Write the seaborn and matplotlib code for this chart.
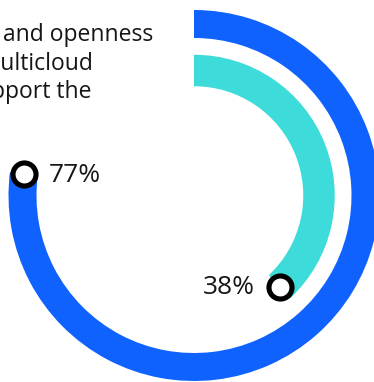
import numpy as np
import pandas as pd
import matplotlib
matplotlib.use("Agg")
import matplotlib.pyplot as plt
import seaborn as sns

# ---- data ----
series = ["Outer ring", "Inner ring"]
values = [77, 38]
value_labels = ["77%", "38%"]
colors = ["#0f62fe", "#3ddbd9"]
caption_lines = ["and openness", "multicloud", "support the"]

# ---- layout (pixels) ----
W, H = 374, 382
cx, cy = 194, 195.5
R = 190
ring_mid = [171.5, 125]
ring_width = [28, 31.5]

sns.set_theme(style="white")
plt.rcParams["font.family"] = ["Open Sans", "DejaVu Sans"]

fig = plt.figure(figsize=(W / 100, H / 100), dpi=100)
ax = fig.add_axes([(cx - R) / W, (H - cy - R) / H, 2 * R / W, 2 * R / H],
                  projection="polar")
ax.set_theta_zero_location("N")
ax.set_theta_direction(-1)
ax.set_ylim(0, R)
ax.set_xlim(0, 2 * np.pi)
ax.patch.set_alpha(0)

theta_end = [np.deg2rad(v * 3.6) for v in values]
for th, r, w, c in zip(theta_end, ring_mid, ring_width, colors):
    ax.barh(r, th, left=0, height=w, color=c, linewidth=0, clip_on=False)

df = pd.DataFrame({"series": series, "theta": theta_end, "r": ring_mid})
sns.scatterplot(data=df, x="theta", y="r", ax=ax, s=275, color="white",
                edgecolor="black", linewidth=3.7, zorder=5, legend=False,
                clip_on=False)

offsets = [(18, -5.6), (-18, -5.6)]
aligns = ["left", "right"]
for th, r, lab, off, ha in zip(theta_end, ring_mid, value_labels, offsets, aligns):
    ax.annotate(lab, xy=(th, r), xytext=off, textcoords="offset points",
                ha=ha, va="baseline", fontsize=19, color="#161616",
                annotation_clip=False)
ax.axis("off")

# caption (cropped paragraph)
cap_right = [153, 93, 92]
cap_base = [40.7, 70, 98.3]
for txt, xr, yb in zip(caption_lines, cap_right, cap_base):
    fig.text(xr / W, 1 - yb / H, txt, ha="right", va="baseline",
             fontsize=16.5, color="#161616")

fig.savefig("out.png", dpi=100)
